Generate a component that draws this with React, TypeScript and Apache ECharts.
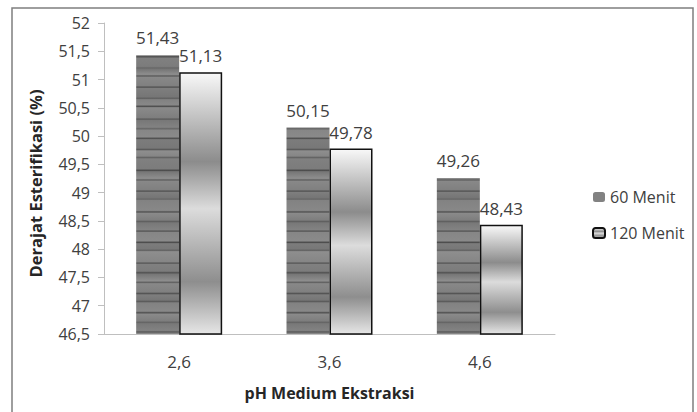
import React, { useEffect, useRef } from "react";
import * as echarts from "echarts";

const categories = ["2,6", "3,6", "4,6"];
const series60 = [51.43, 50.15, 49.26];
const series120 = [51.13, 49.78, 48.43];
const seriesNames = ["60 Menit", "120 Menit"];
const yMin = 46.5;
const yMax = 52;
const yStep = 0.5;
const xTitle = "pH Medium Ekstraksi";
const yTitle = "Derajat Esterifikasi (%)";

const FONT = "'Open Sans', 'Noto Sans', sans-serif";

// hand-picked texture (styling only): thin dark streaks over a varying gray base
const streakOffsets = [
  0.02, 0.055, 0.08, 0.115, 0.15, 0.175, 0.21, 0.245, 0.27, 0.31, 0.34, 0.37,
  0.405, 0.43, 0.47, 0.5, 0.535, 0.56, 0.6, 0.63, 0.66, 0.695, 0.72, 0.76,
  0.79, 0.82, 0.855, 0.88, 0.915, 0.945, 0.975,
];
const streakDark = [
  0x4e, 0x62, 0x56, 0x4a, 0x66, 0x58, 0x50, 0x60, 0x4c, 0x5a, 0x64, 0x4e,
  0x58, 0x62, 0x4a, 0x5c, 0x52, 0x66, 0x4e, 0x5e, 0x54, 0x4a, 0x62, 0x56,
  0x4e, 0x60, 0x52, 0x5a, 0x4c, 0x64, 0x56,
];
const baseLevels = [0x82, 0x8a, 0x78, 0x86, 0x7c, 0x8e, 0x80, 0x76, 0x88, 0x7e];

const gray = (v: number) => {
  const h = v.toString(16).padStart(2, "0");
  return "#" + h + h + h;
};

function texturedFill() {
  const stops: { offset: number; color: string }[] = [{ offset: 0, color: gray(baseLevels[0]) }];
  streakOffsets.forEach((o, i) => {
    const before = baseLevels[i % baseLevels.length];
    const after = baseLevels[(i + 3) % baseLevels.length];
    stops.push({ offset: o - 0.005, color: gray(before) });
    stops.push({ offset: o, color: gray(streakDark[i]) });
    stops.push({ offset: o + 0.004, color: gray(after) });
  });
  stops.push({ offset: 1, color: gray(baseLevels[1]) });
  return new echarts.graphic.LinearGradient(0, 20, 0, 340, stops, true);
}

function chromeFill() {
  return new echarts.graphic.LinearGradient(0, 0, 0, 1, [
    { offset: 0, color: "#f8f8f8" },
    { offset: 0.34, color: "#8c8c8c" },
    { offset: 0.52, color: "#dcdcdc" },
    { offset: 0.8, color: "#8e8e8e" },
    { offset: 1, color: "#e6e6e6" },
  ]);
}

const fmt = (v: number) => String(v).replace(".", ",");

export default function App() {
  const ref = useRef<HTMLDivElement>(null);
  useEffect(() => {
    if (!ref.current) return;
    const chart = echarts.init(ref.current, undefined, { renderer: "svg" });
    chart.setOption({
      animation: false,
      backgroundColor: "#ffffff",
      textStyle: { fontFamily: FONT },
      graphic: [
        {
          type: "rect",
          shape: { x: 12, y: 8, width: 681, height: 420 },
          style: { fill: "none", stroke: "#7f7f7f", lineWidth: 1.5 },
          silent: true,
        },
      ],
      grid: { left: 104, right: 142, top: 23, bottom: 78 },
      legend: {
        orient: "vertical",
        left: 587,
        top: 184,
        itemWidth: 12,
        itemHeight: 10,
        itemGap: 20,
        textStyle: { fontFamily: FONT, fontSize: 16, color: "#404040" },
        data: seriesNames,
      },
      xAxis: {
        type: "category",
        data: categories,
        name: xTitle,
        nameLocation: "middle",
        nameGap: 51,
        nameTextStyle: { fontFamily: FONT, fontSize: 16, fontWeight: "bold", color: "#262626" },
        axisLine: { lineStyle: { color: "#bfbfbf", width: 1 } },
        axisTick: { show: false },
        axisLabel: { margin: 19, fontSize: 17, color: "#404040", fontFamily: FONT },
      },
      yAxis: {
        type: "value",
        min: yMin,
        max: yMax,
        interval: yStep,
        name: yTitle,
        nameLocation: "middle",
        nameGap: 60,
        nameRotate: 90,
        nameTextStyle: {
          fontFamily: FONT,
          fontSize: 16.5,
          fontWeight: "bold",
          color: "#262626",
          padding: [0, 10, 0, 0],
        },
        axisLine: { show: true, lineStyle: { color: "#bfbfbf", width: 1 } },
        axisTick: { show: true, length: 6, lineStyle: { color: "#bfbfbf" } },
        splitLine: { show: false },
        axisLabel: {
          margin: 14,
          fontSize: 16,
          color: "#404040",
          fontFamily: FONT,
          formatter: (v: number) => fmt(v),
        },
      },
      series: [
        {
          name: seriesNames[0],
          type: "bar",
          data: series60,
          barWidth: 43,
          barGap: "0%",
          itemStyle: { color: texturedFill() },
          label: {
            show: true,
            position: "top",
            distance: 9,
            fontSize: 17,
            color: "#404040",
            fontFamily: FONT,
            formatter: (p: any) => fmt(p.value),
          },
        },
        {
          name: seriesNames[1],
          type: "bar",
          data: series120,
          barWidth: 43,
          barGap: "0%",
          itemStyle: { color: chromeFill(), borderColor: "#111111", borderWidth: 1.5 },
          label: {
            show: true,
            position: "top",
            distance: 8,
            fontSize: 17,
            color: "#404040",
            fontFamily: FONT,
            formatter: (p: any) => fmt(p.value),
          },
        },
      ],
    });
    return () => chart.dispose();
  }, []);
  return (
    <div
      ref={ref}
      style={{ position: "fixed", left: 0, top: 0, width: 697, height: 412 }}
    />
  );
}
